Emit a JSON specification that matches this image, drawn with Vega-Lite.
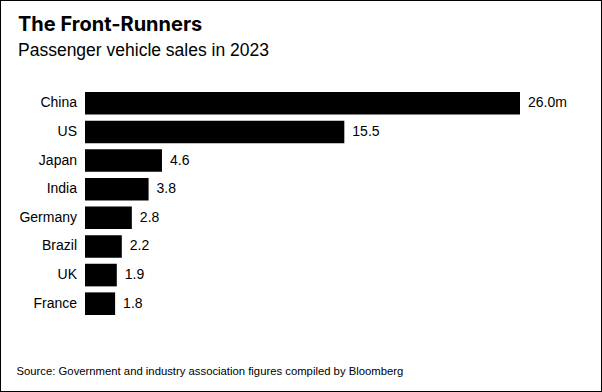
{
  "$schema": "https://vega.github.io/schema/vega-lite/v6.json",
  "width": 602,
  "height": 392,
  "autosize": {"type": "none"},
  "padding": 0,
  "background": "white",
  "config": {
    "view": {"stroke": "black", "strokeWidth": 2},
    "font": "Liberation Sans"
  },
  "title": {
    "text": "The Front-Runners",
    "subtitle": "Passenger vehicle sales in 2023",
    "anchor": "start",
    "frame": "group",
    "orient": "top",
    "offset": -59,
    "dx": 18,
    "font": "Inter",
    "fontSize": 20,
    "fontWeight": "bold",
    "color": "#000000",
    "subtitleFont": "Liberation Sans",
    "subtitleFontSize": 17.5,
    "subtitleColor": "#000000",
    "subtitlePadding": 7
  },
  "data": {
    "values": [
      {"country": "China", "value": 26.0, "label": "26.0m"},
      {"country": "US", "value": 15.5, "label": "15.5"},
      {"country": "Japan", "value": 4.6, "label": "4.6"},
      {"country": "India", "value": 3.8, "label": "3.8"},
      {"country": "Germany", "value": 2.8, "label": "2.8"},
      {"country": "Brazil", "value": 2.2, "label": "2.2"},
      {"country": "UK", "value": 1.9, "label": "1.9"},
      {"country": "France", "value": 1.8, "label": "1.8"}
    ]
  },
  "encoding": {
    "y": {
      "field": "country",
      "type": "nominal",
      "sort": null,
      "scale": {"range": [89, 318], "paddingInner": 0.21, "paddingOuter": 0.105},
      "axis": null
    }
  },
  "layer": [
    {
      "mark": {"type": "bar", "color": "#000000"},
      "encoding": {
        "x": {
          "field": "value",
          "type": "quantitative",
          "scale": {"domain": [0, 26], "range": [85, 520], "nice": false, "zero": true},
          "axis": {
            "orient": "bottom",
            "labels": false,
            "ticks": false,
            "domain": false,
            "grid": false,
            "title": "Source: Government and industry association figures compiled by Bloomberg",
            "titleX": 16,
            "titleY": -18,
            "titleAlign": "left",
            "titleAnchor": "start",
            "titleBaseline": "alphabetic",
            "titleFont": "Liberation Sans",
            "titleFontSize": 11.3,
            "titleFontWeight": "normal",
            "titleColor": "#000000"
          }
        }
      }
    },
    {
      "mark": {"type": "text", "align": "left", "baseline": "middle", "dx": 8, "fontSize": 14, "color": "#000000"},
      "encoding": {
        "x": {"field": "value", "type": "quantitative"},
        "text": {"field": "label"}
      }
    },
    {
      "mark": {"type": "text", "align": "right", "baseline": "middle", "dx": -8, "fontSize": 14, "color": "#000000"},
      "encoding": {
        "x": {"datum": 0, "type": "quantitative"},
        "text": {"field": "country"}
      }
    }
  ]
}
